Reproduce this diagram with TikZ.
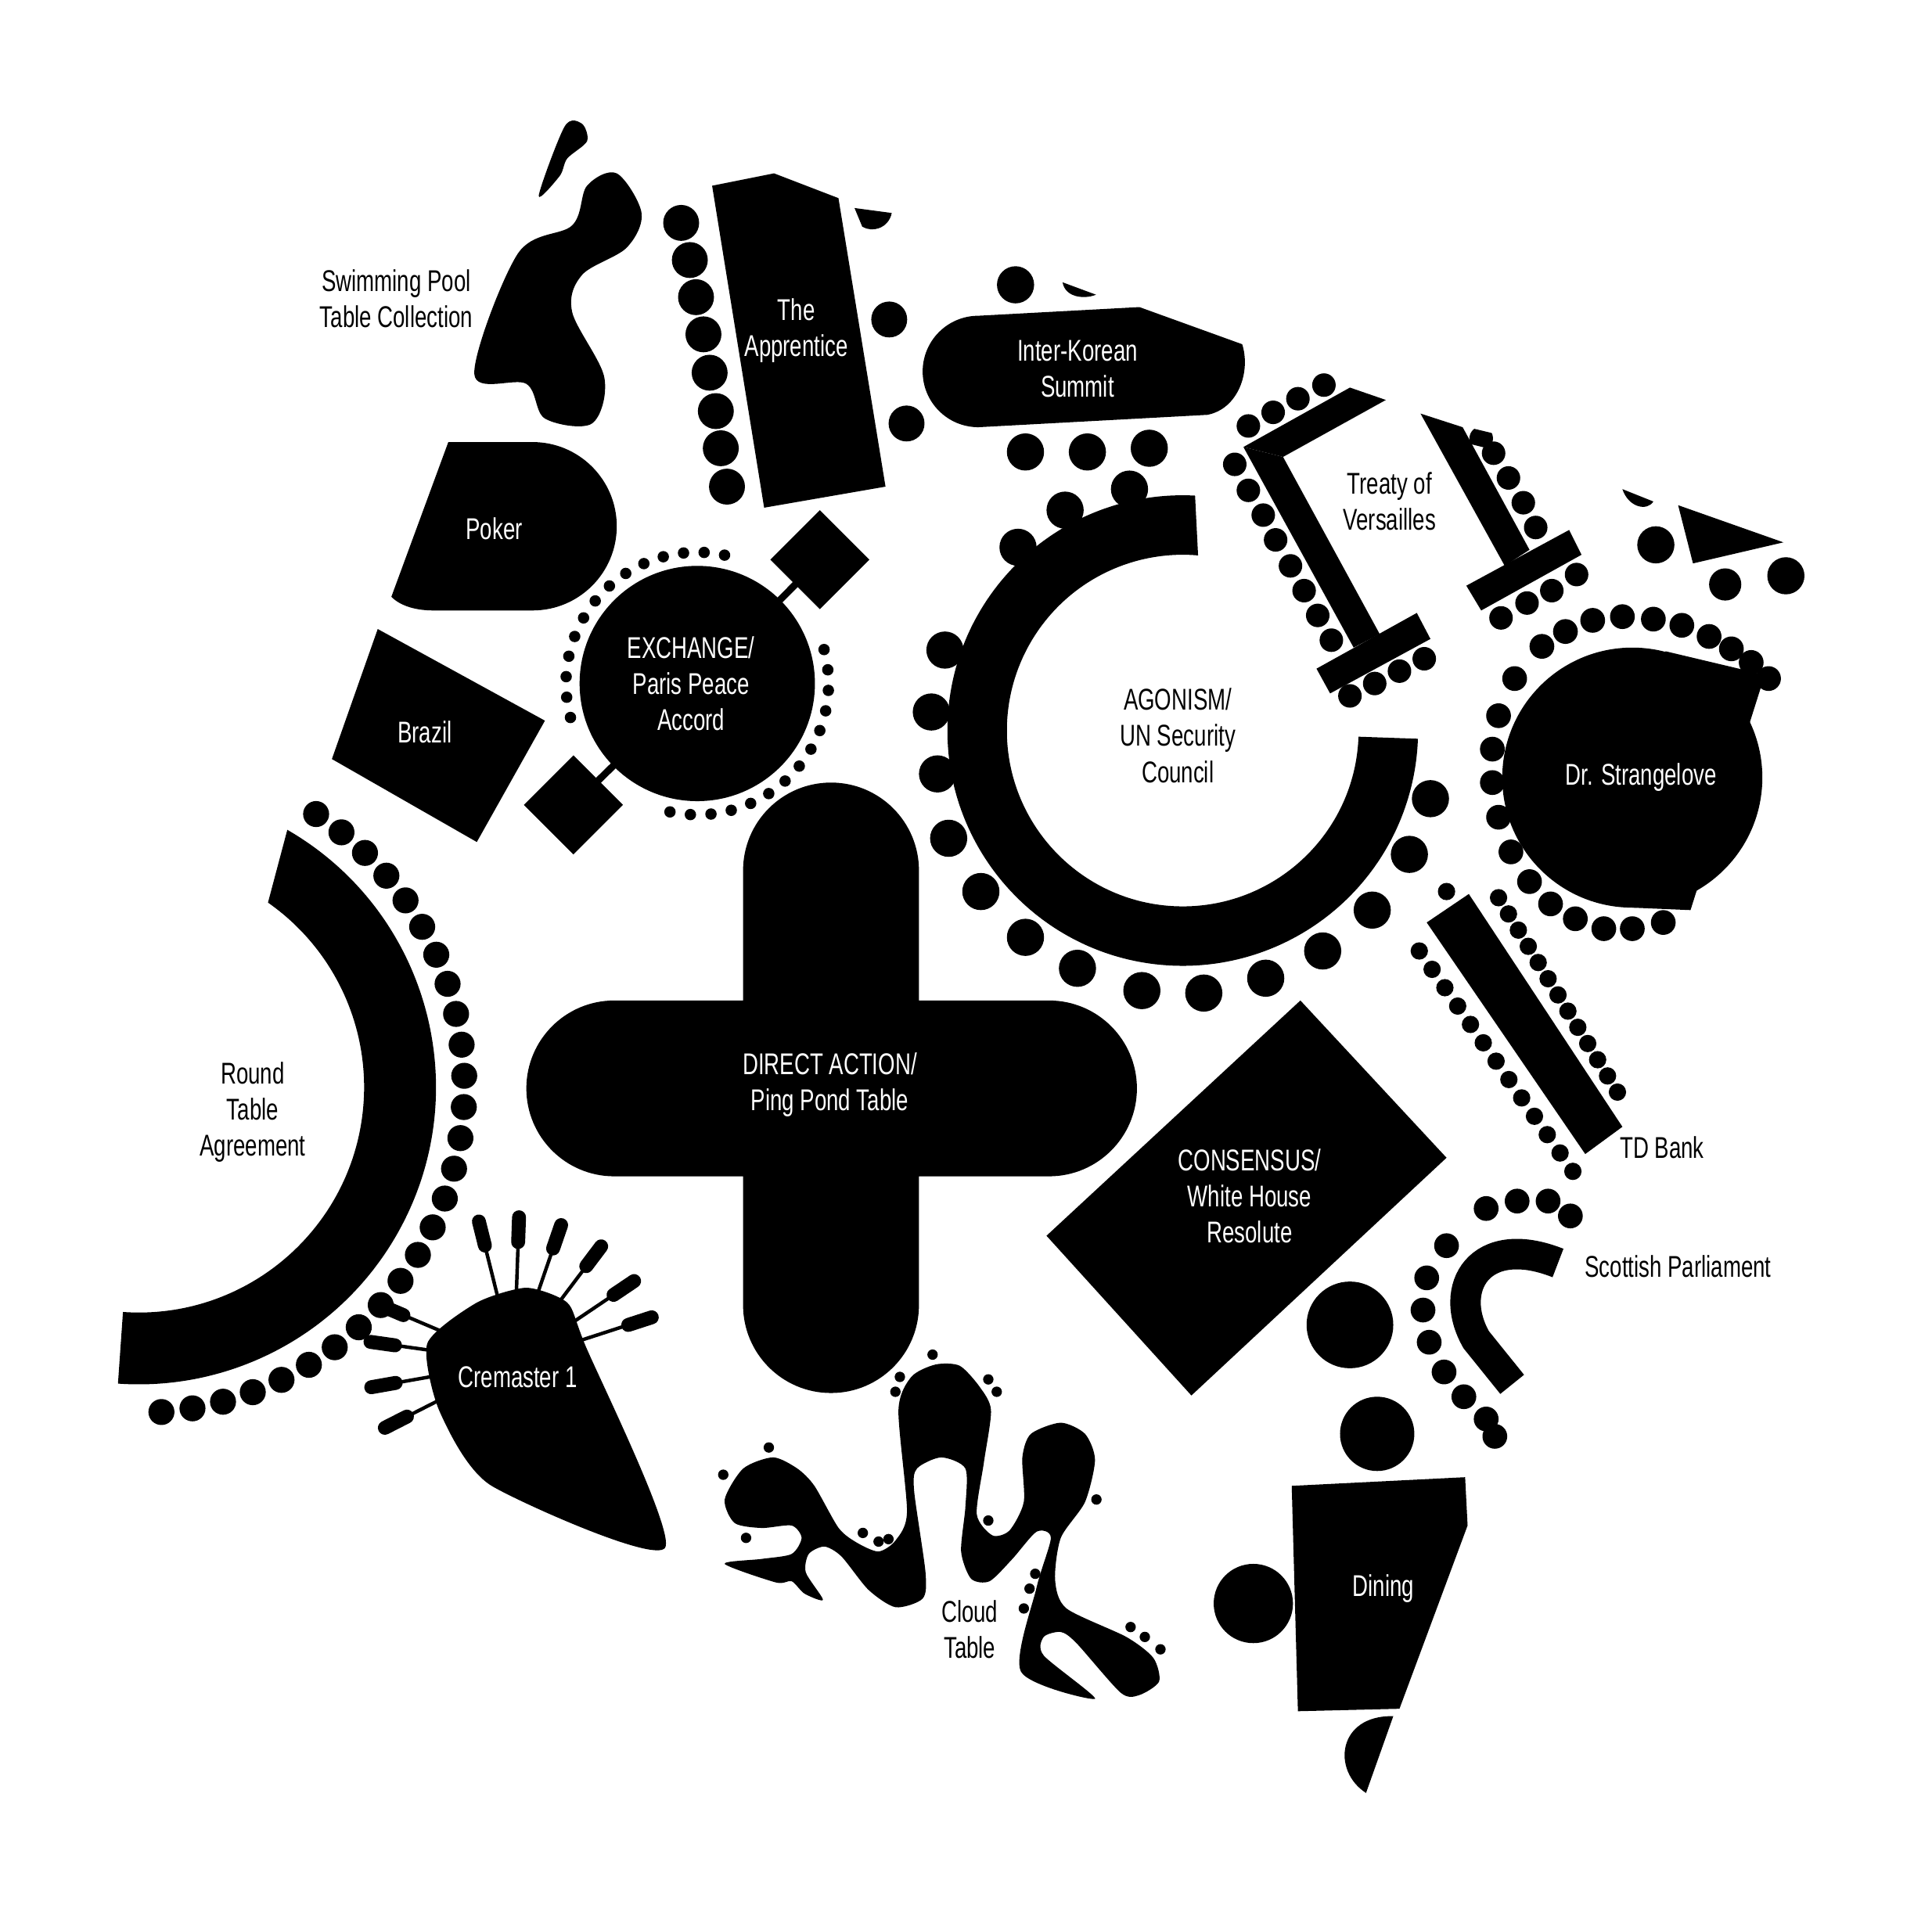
\documentclass[tikz,border=0pt]{standalone}
\usepackage{fontspec}
\setmainfont{Liberation Sans}[FakeStretch=0.72]
\usetikzlibrary{calc}
\begin{document}
\begin{tikzpicture}[x=0.01cm,y=-0.01cm,
  lbl/.style={align=center,font=\fontsize{6.9}{8.3}\selectfont,inner sep=0pt},
  wl/.style={lbl,text=white}]
\useasboundingbox (0,0) rectangle (1560,1538);
\fill[white] (0,0) rectangle (1560,1538);
% Swimming pool
\fill plot[smooth cycle,tension=0.55] coordinates{(383,302)(418,205)(462,182)(474,150)(498,140)(518,172)(506,200)(470,222)(462,252)(488,305)(478,342)(440,338)(425,310)};
\fill plot[smooth cycle,tension=0.5] coordinates{(435,158)(456,102)(470,100)(474,114)(458,128)(452,142)};
% Poker
\fill (362,357) -- (430,357) arc[start angle=-90,end angle=90,radius=68] -- (350,493) .. controls (333,493) and (322,488) .. (316,482) -- cycle;
% Brazil
\fill (305,508) -- (440,582) -- (385,680) -- (268,613) -- cycle;
% Exchange
\fill (563,552) circle[radius=95];
\draw[line width=1.6pt] (563,552) -- (662,452) (563,552) -- (463,650);
\fill (662,412) -- (702,452) -- (662,492) -- (622,452) -- cycle;
\fill (463,610) -- (503,650) -- (463,690) -- (423,650) -- cycle;
\foreach \a in {-15,-6,...,102} \fill ($(563,552)+(\a:106)$) circle[radius=4.6];
\foreach \a in {165,174,...,286} \fill ($(563,552)+(\a:106)$) circle[radius=4.6];
% Apprentice
\fill (575,150) -- (625,140) -- (677,160) -- (715,393) -- (617,410) -- cycle;
\foreach \p in {(550,180),(557,210),(562,240),(568,270),(573,301),(578,332),(582,362),(587,393)} \fill \p circle[radius=14.5];
\fill (690,168) -- (720,172) arc[start angle=10,end angle=120,radius=16] -- cycle;
\fill (718,258) circle[radius=14.5];
\fill (732,342) circle[radius=14.5];
% Inter-Korean
\fill (790,255) -- (920,248) -- (1003,278) .. controls (1010,300) and (1000,330) .. (975,335) -- (790,345) arc[start angle=90,end angle=270,radius=45] -- cycle;
\fill (820,230) circle[radius=15];
\fill (858,228) -- (885,238) .. controls (875,242) and (860,240) .. cycle;
\foreach \p in {(828,365),(878,365),(928,362),(912,395),(860,412),(822,442),(763,525),(752,575),(757,625),(766,677),(792,720),(828,757),(870,782),(922,800),(972,802),(1022,790),(1068,768),(1108,735),(1138,690),(1155,645)} \fill \p circle[radius=15];
% Agonism arc
\fill[shift={(955,590)}] (-87:190) arc[start angle=-87,end angle=-358,radius=190] -- (-358:142) arc[start angle=-358,end angle=-85,radius=142] -- cycle;
% Treaty of Versailles
\begin{scope}[shift={(5,3)}]
\fill (999,358) -- (1085,310) -- (1114,320) -- (1031,366) -- cycle;
\fill (999,358) -- (1031,366) -- (1109,509) -- (1088,520) -- cycle;
\fill (1058,537) -- (1139,492) -- (1150,513) -- (1069,557) -- cycle;
\foreach \p in {(1003,341),(1023,330),(1043,319),(992,372),(1003,393),(1015,413),(1025,433),(1037,454),(1048,474),(1059,494),(1070,514),(1085,559),(1105,549),(1125,539),(1145,529)} \fill \p circle[radius=9.5];
\begin{scope}
\clip (1040,290) -- (1090,290) -- (1088,310) -- (1040,330) -- cycle;
\fill (1064,308) circle[radius=9.5];
\end{scope}
\fill (1142,331) -- (1176,342) -- (1230,441) -- (1210,454) -- cycle;
\fill (1179,470) -- (1262,425) -- (1272,445) -- (1191,490) -- cycle;
\foreach \p in {(1201,363),(1213,383),(1225,403),(1235,423),(1207,496),(1228,484),(1248,474),(1268,461)} \fill \p circle[radius=9.5];
\begin{scope}
\clip (1180,342) -- (1205,348) -- (1200,360) -- (1180,355) -- cycle;
\fill (1191,351) circle[radius=9.5];
\end{scope}
\node[lbl] (tov) at (1117,402) {Treaty of\\Versailles};
\end{scope}
% Dr Strangelove
\fill (1318,628) circle[radius=105];
\fill (1345,526) -- (1425,545) -- (1365,735) -- (1318,733) -- (1318,540) -- cycle;
\foreach \p in {(1223,548),(1210,578),(1205,605),(1205,632),(1210,660),(1220,688),(1235,712),(1252,730),(1272,742),(1295,750),(1318,750),(1343,745),(1245,522),(1264,510),(1286,501),(1310,498),(1335,500),(1358,505),(1380,514),(1398,524),(1414,535),(1428,548)} \fill \p circle[radius=10];
\fill (1310,395) -- (1335,405) .. controls (1330,413) and (1315,410) .. cycle;
\fill (1337,440) circle[radius=15];
\fill (1355,408) -- (1440,438) -- (1367,455) -- cycle;
\fill (1442,465) circle[radius=15];
\fill (1393,472) circle[radius=13];
% TD Bank
\fill (1152,745) -- (1186,722) -- (1310,910) -- (1280,932) -- cycle;
\foreach \i in {0,...,12} \fill ($(1146,768)!\i/12!(1270,946)$) circle[radius=7];
\foreach \i in {0,...,12} \fill ($(1210,725)!\i/12!(1306,882)$) circle[radius=7];
\fill (1168,720) circle[radius=7];
% Scottish Parliament
\draw[line width=7pt] (1221,1118) -- (1192,1082) .. controls (1168,1040) and (1195,995) .. (1258,1020);
\foreach \p in {(1200,976),(1225,970),(1250,970),(1268,982),(1168,1006),(1152,1032),(1149,1058),(1154,1084),(1166,1108),(1182,1128),(1200,1146),(1207,1160)} \fill \p circle[radius=10];
\fill (1090,1070) circle[radius=35];
\fill (1112,1158) circle[radius=30];
% Dining
\fill (1043,1200) -- (1183,1193) -- (1185,1232) -- (1130,1380) -- (1048,1382) -- cycle;
\fill (1012,1295) circle[radius=32];
\fill (1125,1386) -- (1103,1448) .. controls (1075,1430) and (1080,1385) .. cycle;
% Consensus
\fill (1050,808) -- (1168,935) -- (962,1127) -- (845,998) -- cycle;
% Cross
\fill (600,808) -- (600,703) arc[start angle=180,end angle=360,radius=71] -- (742,808) -- (847,808) arc[start angle=-90,end angle=90,radius=71] -- (742,950) -- (742,1054) arc[start angle=0,end angle=180,radius=71] -- (600,950) -- (496,950) arc[start angle=90,end angle=270,radius=71] -- cycle;
% Round table
\fill[shift={(112,878)}] (-60:240) arc[start angle=-60,end angle=94,radius=240] -- (94:182) arc[start angle=94,end angle=-55,radius=182] -- cycle;
\foreach \a in {-57,-51.5,...,86} \fill ($(112,878)+(\a:263)$) circle[radius=10.5];
% Cremaster
\fill plot[smooth cycle,tension=0.4] coordinates{(345,1085)(385,1052)(425,1040)(458,1052)(472,1085)(537,1250)(397,1200)(355,1140)};
\fill (537,1250) -- (497,1170) -- (500,1240) -- cycle;
\foreach \a in {-104,-88,-71,-53,-34,-18,-157,-172,170,153} {
  \draw[line width=0.8pt] ($(415,1100)+(\a:40)$) -- ($(415,1100)+(\a:95)$);
  \draw[line width=3.2pt,line cap=round] ($(415,1100)+(\a:97)$) -- ($(415,1100)+(\a:117)$);}
% Cloud table
\begin{scope}[shift={(584,0)},xscale=1.15,shift={(-584,0)}]
\fill plot[smooth cycle,tension=0.45] coordinates{(585,1263)(621,1278)(632,1277)(641,1287)(654,1292)(642,1270)(644,1255)(655,1249)(667,1257)(686,1284)(705,1298)(724,1291)(726,1270)(718,1204)(720,1186)(737,1177)(754,1186)(754,1217)(751,1253)(758,1275)(771,1277)(787,1259)(804,1237)(814,1242)(804,1282)(793,1350)(845,1372)(809,1337)(809,1322)(821,1318)(832,1327)(863,1367)(876,1369)(890,1358)(886,1339)(867,1322)(825,1299)(817,1276)(821,1242)(838,1213)(845,1179)(838,1158)(821,1149)(800,1158)(794,1177)(795,1213)(785,1236)(773,1240)(762,1223)(767,1181)(772,1139)(764,1120)(750,1103)(733,1102)(716,1112)(707,1139)(713,1221)(705,1244)(693,1253)(678,1246)(665,1234)(648,1200)(636,1186)(619,1177)(598,1186)(585,1211)(592,1230)(611,1234)(632,1232)(639,1242)(632,1255)(611,1259)};
\end{scope}
\foreach \p in {(753,1094),(726.6,1112),(723,1124),(798,1114),(804.8,1124),(620.8,1169),(584,1191),(602.4,1242),(696.7,1238),(709.4,1245),(717.4,1243),(798,1228),(885.3,1211),(835.9,1271),(831.3,1283),(826.7,1299),(912.9,1314),(924.4,1322),(937,1332)} \fill \p circle[radius=4.2];
% Labels
\node[lbl] (cloud) at (783,1316) {Cloud\\Table};
\node[lbl] (swim) at (320,241) {Swimming Pool\\Table Collection};
\node[wl] (appr) at (643,267) {The\\Apprentice};
\node[wl] (ik) at (870,298) {Inter-Korean\\Summit};
\node[wl] (poker) at (399,427) {Poker};
\node[wl] (exch) at (558,552) {EXCHANGE/\\Paris Peace\\Accord};
\node[wl] (brazil) at (343,591) {Brazil};
\node[lbl] (agon) at (951,594) {AGONISM/\\UN Security\\Council};
\node[wl] (strange) at (1325,628) {Dr. Strangelove};
\node[lbl] (rta) at (204,898) {Round\\Table\\Agreement};
\node[wl] (da) at (670,876) {DIRECT ACTION/\\Ping Pond Table};
\node[lbl] (td) at (1342,927) {TD Bank};
\node[wl] (cons) at (1009,966) {CONSENSUS/\\White House\\Resolute};
\node[lbl] (scot) at (1355,1023) {Scottish Parliament};
\node[wl] (crem) at (418,1112) {Cremaster 1};
\node[wl] (dining) at (1117,1283) {Dining};
\end{tikzpicture}
\end{document}
